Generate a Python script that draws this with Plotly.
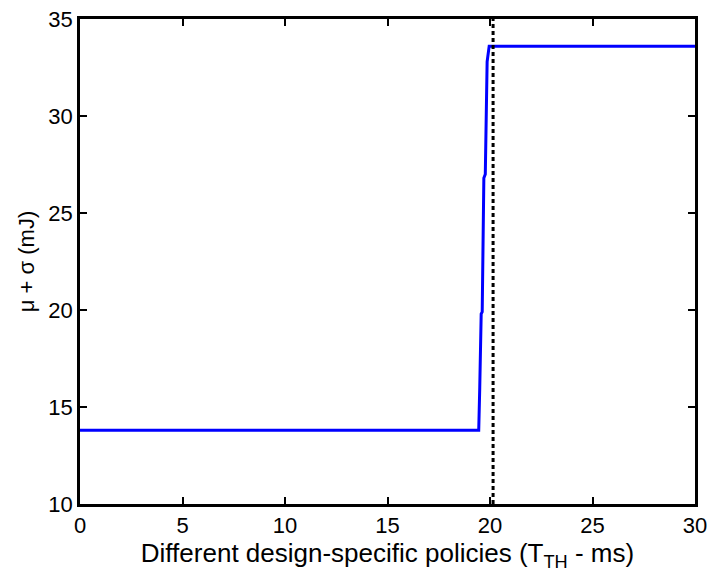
import plotly.graph_objects as go

# Data
policy_ms = [0, 19.45, 19.50, 19.57, 19.62, 19.70, 19.77, 19.86, 19.96, 30]
energy_mj = [13.8, 13.8, 16.0, 19.8, 19.9, 26.8, 27.0, 32.8, 33.6, 33.6]
threshold_ms = 20.15
x_ticks = [0, 5, 10, 15, 20, 25, 30]
y_ticks = [10, 15, 20, 25, 30, 35]

fig = go.Figure()
fig.add_trace(go.Scatter(x=policy_ms, y=energy_mj, mode="lines",
                         line=dict(color="#0000FF", width=3), showlegend=False))
fig.add_trace(go.Scatter(x=[threshold_ms, threshold_ms], y=[10, 35], mode="lines",
                         line=dict(color="black", width=3, dash="4px,3px"), showlegend=False))

font = dict(family="Liberation Sans, Arial, sans-serif", size=22, color="black")
fig.update_layout(
    width=710, height=575,
    margin=dict(l=80, r=15, t=19, b=71),
    paper_bgcolor="white", plot_bgcolor="white",
    font=font,
)
fig.update_xaxes(range=[0, 30], tickvals=x_ticks, ticks="inside", ticklen=7,
                 tickwidth=1.5, tickcolor="black", showline=True, linecolor="black",
                 linewidth=2.5, mirror="allticks", showgrid=False, zeroline=False,
                 tickfont=font, ticklabeloverflow="allow", automargin=False,
                 title=dict(text="Different design-specific policies (T<sub>TH</sub> - ms)",
                            font=dict(family="Liberation Sans, Arial, sans-serif", size=26,
                                      color="black"), standoff=0))
fig.update_yaxes(range=[10, 35], tickvals=y_ticks, ticks="inside", ticklen=7,
                 tickwidth=1.5, tickcolor="black", showline=True, linecolor="black",
                 linewidth=2.5, mirror="allticks", showgrid=False, zeroline=False,
                 tickfont=font, ticklabeloverflow="allow", automargin=False,
                 title=dict(text="μ + σ (mJ)", font=font, standoff=8))

fig.write_html("out.html")
